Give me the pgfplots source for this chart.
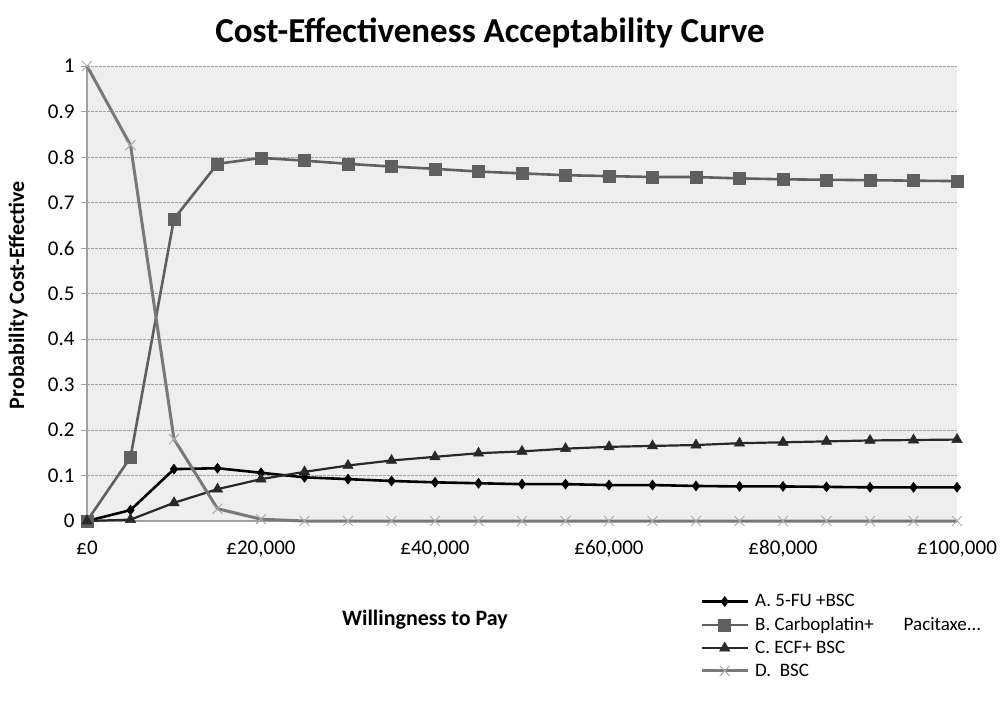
\documentclass[border=0pt]{standalone}
\usepackage{fontspec}
\setmainfont{Carlito}
\usepackage{pgfplots}
\pgfplotsset{compat=1.18}
\usepackage{pgfplotstable}
\definecolor{cA}{RGB}{0,0,0}
\definecolor{cB}{RGB}{95,95,95}
\definecolor{cC}{RGB}{40,40,40}
\definecolor{cD}{RGB}{120,120,120}
\definecolor{cDm}{RGB}{170,170,170}
\definecolor{bg}{RGB}{238,238,238}
\definecolor{axc}{RGB}{160,160,160}

\pgfplotstableread{
x A B C D
0 0 0 0 1.0
5000 0.024 0.140 0.003 0.826
10000 0.114 0.664 0.040 0.180
15000 0.116 0.785 0.070 0.027
20000 0.106 0.798 0.092 0.004
25000 0.096 0.792 0.108 0.000
30000 0.092 0.785 0.122 0.000
35000 0.088 0.779 0.133 0.000
40000 0.085 0.774 0.141 0.000
45000 0.083 0.768 0.149 0.000
50000 0.081 0.764 0.153 0.000
55000 0.081 0.760 0.159 0.000
60000 0.079 0.758 0.163 0.000
65000 0.079 0.756 0.165 0.000
70000 0.077 0.756 0.167 0.000
75000 0.076 0.753 0.171 0.000
80000 0.076 0.751 0.173 0.000
85000 0.075 0.750 0.175 0.000
90000 0.074 0.749 0.177 0.000
95000 0.074 0.748 0.178 0.000
100000 0.074 0.747 0.179 0.000
}\data

\begin{document}
\begin{tikzpicture}
\path[use as bounding box] (0pt,0pt) rectangle (1000pt,-714pt);
\begin{axis}[
  at={(87pt,-521pt)}, anchor=south west,
  scale only axis, width=870pt, height=455pt,
  xmin=0, xmax=100000, ymin=0, ymax=1,
  scaled x ticks=false,
  axis background/.style={fill=bg},
  axis x line*=bottom, axis y line*=left,
  axis line style={draw=axc, line width=1.2pt},
  xtick={0,20000,40000,60000,80000,100000},
  xticklabels={£0,{£20,000},{£40,000},{£60,000},{£80,000},{£100,000}},
  ytick={0,0.1,0.2,0.3,0.4,0.5,0.6,0.7,0.8,0.9,1},
  yticklabels={0,0.1,0.2,0.3,0.4,0.5,0.6,0.7,0.8,0.9,1},
  tick align=outside,
  x tick style={draw=none},
  y tick style={draw=axc, line width=1pt},
  major tick length=6pt,
  ymajorgrids,
  grid style={draw=gray!75, dash pattern=on 2.5pt off 1.5pt, line width=0.8pt},
  tick label style={font=\fontsize{21}{21}\selectfont},
  xticklabel style={yshift=-10pt},
  yticklabel style={xshift=-3pt},
  clip=false,
  legend style={at={(axis description cs:0.7046,-0.157)}, anchor=north west,
    draw=none, fill=none, inner sep=0pt, row sep=5pt,
    font=\fontsize{19}{19}\selectfont, cells={anchor=west}},
  legend cell align=left,
  legend image code/.code={\draw[mark repeat=2,mark phase=2,#1] plot coordinates {(0pt,0pt) (23pt,0pt) (46pt,0pt)};},
]
\addplot[draw=cA, line width=2.6pt, mark=diamond*, mark size=5pt, mark options={fill=cA, draw=cA, line width=0.5pt}] table[x=x,y=A] {\data};
\addlegendentry{\hspace{4pt}A. 5-FU +BSC}
\addplot[draw=cB, line width=2.6pt, mark=square*, mark size=6pt, mark options={fill=cB, draw=cB, line width=0.5pt}] table[x=x,y=B] {\data};
\addlegendentry{\hspace{4pt}B. Carboplatin+\hspace{30pt}Pacitaxe...}
\addplot[draw=cC, line width=2.2pt, mark=triangle*, mark size=6pt, mark options={fill=cC, draw=cC, line width=0.5pt}] table[x=x,y=C] {\data};
\addlegendentry{\hspace{4pt}C. ECF+ BSC}
\addplot[draw=cD, line width=3pt, mark=x, mark size=7pt, mark options={draw=cDm, line width=1pt}] table[x=x,y=D] {\data};
\addlegendentry{\hspace{4pt}D.\ \ BSC}
\end{axis}
\node[font=\fontsize{35}{35}\selectfont\bfseries] at (490pt,-33pt) {Cost-Effectiveness Acceptability Curve};
\node[font=\fontsize{22}{22}\selectfont\bfseries, rotate=90] at (18pt,-295pt) {Probability Cost-Effective};
\node[font=\fontsize{22}{22}\selectfont\bfseries] at (425pt,-620pt) {Willingness to Pay};
\end{tikzpicture}
\end{document}
